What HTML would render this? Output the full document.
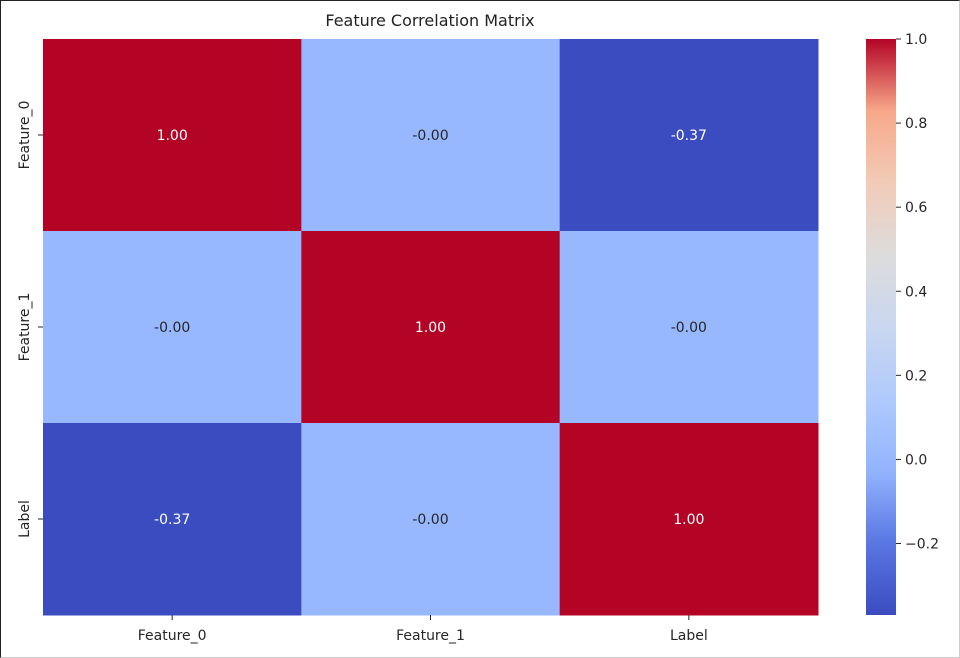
<!DOCTYPE html>
<html><head><meta charset="utf-8"><style>
body{margin:0;background:#fff;font-family:"DejaVu Sans","Liberation Sans",sans-serif}
#frame{position:absolute;left:0;top:0;width:958px;height:656px;border:1px solid #222;border-right:1px solid #ccc;border-bottom:1px solid #ccc}
svg text{font-family:"DejaVu Sans","Liberation Sans",sans-serif}
</style></head><body>
<div id="frame"></div>
<svg id="chart" width="960" height="658" style="position:absolute;left:0;top:0">
<defs><linearGradient id="cw" x1="0" y1="1" x2="0" y2="0">
<stop offset="0" stop-color="#3b4cc0"/><stop offset="0.125" stop-color="#5977e3"/><stop offset="0.25" stop-color="#92b4fe"/><stop offset="0.375" stop-color="#afcafc"/><stop offset="0.5" stop-color="#c9d7f0"/><stop offset="0.625" stop-color="#dddcdc"/><stop offset="0.75" stop-color="#f2cbb7"/><stop offset="0.875" stop-color="#f7a889"/><stop offset="1" stop-color="#b40426"/>
</linearGradient></defs>
<text x="430" y="26" text-anchor="middle" font-size="16" fill="#222">Feature Correlation Matrix</text>
<g id="cells"></g>
<rect x="866" y="39" width="30" height="576" fill="url(#cw)"/>
<g id="cbticks"></g>
</svg>
<script>
const labels=["Feature_0","Feature_1","Label"];
const matrix=[[1.00,-0.00,-0.37],[-0.00,1.00,-0.00],[-0.37,-0.00,1.00]];
const cbTicks=[1.0,0.8,0.6,0.4,0.2,0.0,-0.2];
const vmin=-0.37,vmax=1.0;
const X0=43,Y0=39,W=775,H=576;
const stops=[[0,[59,76,192]],[0.125,[89,119,227]],[0.25,[146,180,254]],[0.375,[175,202,252]],[0.5,[201,215,240]],[0.625,[221,220,220]],[0.75,[242,203,183]],[0.875,[247,168,137]],[1,[180,4,38]]];
function color(v){let t=(v-vmin)/(vmax-vmin);t=Math.max(0,Math.min(1,t));
for(let i=1;i<stops.length;i++){if(t<=stops[i][0]){const a=stops[i-1],b=stops[i];const f=(t-a[0])/(b[0]-a[0]);
return 'rgb('+a[1].map((c,k)=>Math.round(c+(b[1][k]-c)*f)).join(',')+')';}}return 'rgb(180,4,38)';}
const ns="http://www.w3.org/2000/svg";
const svg=document.getElementById('chart');const g=document.getElementById('cells');const cb=document.getElementById('cbticks');
const n=labels.length,cw=W/n,ch=H/n;
function xs(j){return X0+j*cw;}function ys(i){return Y0+i*ch;}
function cy(v){return Y0+(vmax-v)/(vmax-vmin)*H;}
for(let i=0;i<n;i++)for(let j=0;j<n;j++){const v=matrix[i][j];
const r=document.createElementNS(ns,'rect');r.setAttribute('x',xs(j));r.setAttribute('y',ys(i));r.setAttribute('width',cw+0.5);r.setAttribute('height',ch+0.5);r.setAttribute('fill',color(v));


g.appendChild(r);
const t=document.createElementNS(ns,'text');t.setAttribute('x',xs(j)+cw/2);t.setAttribute('y',ys(i)+ch/2+5);t.setAttribute('text-anchor','middle');t.setAttribute('font-size','14');
t.textContent=(v===0)?'-0.00':v.toFixed(2);
t.setAttribute('fill',(v>0.6||v<-0.3)?'#fff':'#262626');


g.appendChild(t);}
labels.forEach((l,k)=>{
const tx=document.createElementNS(ns,'text');tx.setAttribute('x',xs(k)+cw/2);tx.setAttribute('y',640);tx.setAttribute('text-anchor','middle');tx.setAttribute('font-size','14');tx.setAttribute('fill','#262626');tx.textContent=l;


svg.appendChild(tx);
const lx=document.createElementNS(ns,'line');lx.setAttribute('x1',xs(k)+cw/2);lx.setAttribute('x2',xs(k)+cw/2);lx.setAttribute('y1',615);lx.setAttribute('y2',620);lx.setAttribute('stroke','#262626');


svg.appendChild(lx);
const yy=ys(k)+ch/2;
const ty=document.createElementNS(ns,'text');ty.setAttribute('transform','translate(29,'+yy+') rotate(-90)');ty.setAttribute('text-anchor','middle');ty.setAttribute('font-size','14');ty.setAttribute('fill','#262626');ty.textContent=l;


svg.appendChild(ty);
const ly=document.createElementNS(ns,'line');ly.setAttribute('x1',38);ly.setAttribute('x2',43);ly.setAttribute('y1',yy);ly.setAttribute('y2',yy);ly.setAttribute('stroke','#262626');


svg.appendChild(ly);});
cbTicks.forEach(v=>{const y=cy(v);
const l=document.createElementNS(ns,'line');l.setAttribute('x1',896);l.setAttribute('x2',901);l.setAttribute('y1',y);l.setAttribute('y2',y);l.setAttribute('stroke','#262626');


cb.appendChild(l);
const t=document.createElementNS(ns,'text');t.setAttribute('x',905);t.setAttribute('y',y+5);t.setAttribute('font-size','14');t.setAttribute('fill','#262626');t.textContent=(v<0?'\u2212'+Math.abs(v).toFixed(1):v.toFixed(1));


cb.appendChild(t);});
</script>
</body></html>
